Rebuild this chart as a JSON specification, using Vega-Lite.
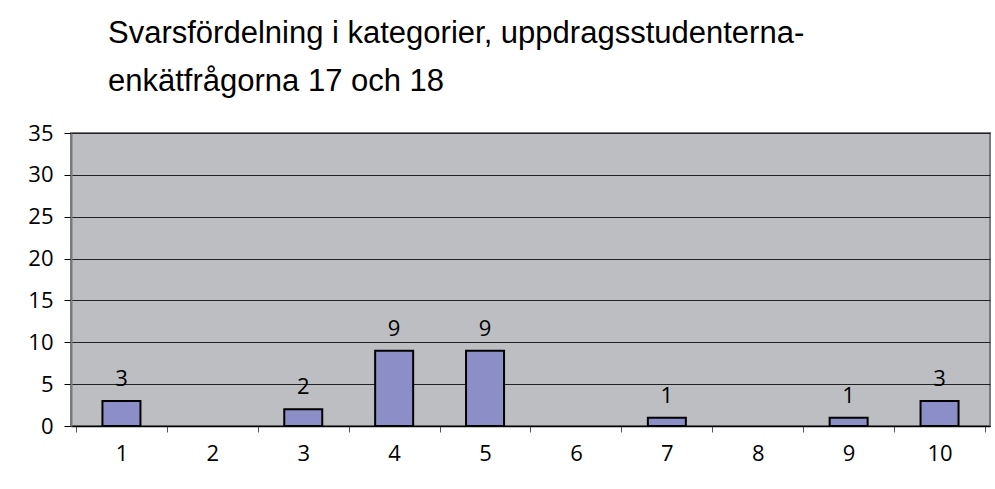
{
  "$schema": "https://vega.github.io/schema/vega-lite/v6.json",
  "autosize": "none",
  "width": 919,
  "height": 293,
  "padding": {"left": 71, "top": 133, "right": 5, "bottom": 63},
  "background": "white",
  "title": {
    "text": ["Svarsfördelning i kategorier, uppdragsstudenterna-", "enkätfrågorna 17 och 18"],
    "anchor": "start",
    "frame": "group",
    "dx": 37,
    "fontSize": 31,
    "fontWeight": "normal",
    "font": "Liberation Sans",
    "color": "#000000",
    "lineHeight": 48,
    "offset": 24
  },
  "config": {
    "view": {"fill": "#BDBEC2", "stroke": "#7A7A7E", "strokeWidth": 2},
    "axis": {"labelFont": "Open Sans", "labelFontSize": 22, "labelColor": "#000000"}
  },
  "data": {
    "values": [
      {"kategori": 1, "antal": 3},
      {"kategori": 2, "antal": 0},
      {"kategori": 3, "antal": 2},
      {"kategori": 4, "antal": 9},
      {"kategori": 5, "antal": 9},
      {"kategori": 6, "antal": 0},
      {"kategori": 7, "antal": 1},
      {"kategori": 8, "antal": 0},
      {"kategori": 9, "antal": 1},
      {"kategori": 10, "antal": 3}
    ]
  },
  "encoding": {
    "x": {
      "field": "kategori",
      "type": "quantitative",
      "scale": {"domain": [0.5, 10.5], "nice": false, "zero": false},
      "axis": {
        "title": null,
        "values": [0.5, 1, 1.5, 2, 2.5, 3, 3.5, 4, 4.5, 5, 5.5, 6, 6.5, 7, 7.5, 8, 8.5, 9, 9.5, 10, 10.5],
        "labelExpr": "datum.value % 1 === 0 ? format(datum.value, 'd') : ''",
        "tickOpacity": {"condition": {"test": "datum.value % 1 === 0", "value": 0}, "value": 1},
        "grid": false,
        "domainColor": "#000000",
        "domainWidth": 1.5,
        "tickColor": "#555555",
        "tickSize": 6,
        "labelPadding": 11,
        "labelFlush": false,
        "labelOverlap": false
      }
    },
    "y": {
      "field": "antal",
      "type": "quantitative",
      "scale": {"domain": [0, 35], "nice": false},
      "axis": {
        "title": null,
        "values": [0, 5, 10, 15, 20, 25, 30, 35],
        "grid": true,
        "gridColor": "#222222",
        "gridWidth": 1,
        "gridOpacity": 1,
        "domainColor": "#7A7A7E",
        "domainWidth": 2,
        "tickColor": "#000000",
        "tickSize": 7,
        "labelPadding": 11
      }
    }
  },
  "layer": [
    {
      "transform": [{"filter": "datum.antal > 0"}],
      "mark": {"type": "bar", "width": 38, "fill": "#8C8FC7", "stroke": "#000000", "strokeWidth": 2}
    },
    {
      "transform": [{"filter": "datum.antal > 0"}],
      "mark": {"type": "text", "baseline": "alphabetic", "dy": -15, "font": "Open Sans", "fontSize": 22, "color": "#000000"},
      "encoding": {"text": {"field": "antal", "type": "quantitative"}}
    }
  ]
}
